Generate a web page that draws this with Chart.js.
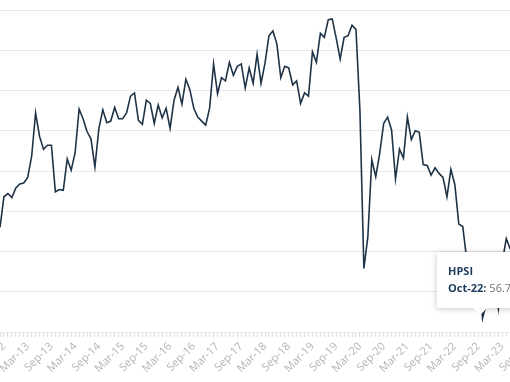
<!DOCTYPE html>
<html>
<head>
<meta charset="utf-8">
<script src="https://cdn.jsdelivr.net/npm/chart.js@4.4.0/dist/chart.umd.min.js"></script>
<style>
  html, body { margin: 0; padding: 0; background: #fff; overflow: hidden; width: 510px; height: 382px; }
  #wrap { position: absolute; left: 0; top: 0; width: 530px; height: 382px; }
  #tip {
    position: absolute; background: #fff; padding: 11px 11px 12px 11px;
    box-shadow: 0 1px 6px rgba(0,0,0,0.22); font-family: 'Open Sans', sans-serif;
    font-size: 11px; white-space: nowrap; border-radius: 1px;
  }
  #tip .t { font-weight: 700; color: #1d3c5c; line-height: 16px; margin-bottom: 1px; }
  #tip .b { line-height: 16px; color: #707070; }
  #tip .b b { color: #1d3c5c; font-weight: 700; }
  #tip .caret {
    position: absolute; left: 50%; bottom: -7px; margin-left: -7px; width: 0; height: 0;
    border-left: 7px solid transparent; border-right: 7px solid transparent; border-top: 7px solid #fff;
  }
</style>
</head>
<body>
<div id="wrap"><canvas id="c" width="530" height="382"></canvas></div>
<div id="tip"><div class="t">HPSI</div><div class="b"><b>Oct-22:</b> 56.7</div><div class="caret"></div></div>
<script>
const seriesName = 'HPSI';
const labels = [
  'Aug-12','Sep-12','Oct-12','Nov-12','Dec-12',
  'Jan-13','Feb-13','Mar-13','Apr-13','May-13','Jun-13','Jul-13','Aug-13','Sep-13','Oct-13','Nov-13','Dec-13',
  'Jan-14','Feb-14','Mar-14','Apr-14','May-14','Jun-14','Jul-14','Aug-14','Sep-14','Oct-14','Nov-14','Dec-14',
  'Jan-15','Feb-15','Mar-15','Apr-15','May-15','Jun-15','Jul-15','Aug-15','Sep-15','Oct-15','Nov-15','Dec-15',
  'Jan-16','Feb-16','Mar-16','Apr-16','May-16','Jun-16','Jul-16','Aug-16','Sep-16','Oct-16','Nov-16','Dec-16',
  'Jan-17','Feb-17','Mar-17','Apr-17','May-17','Jun-17','Jul-17','Aug-17','Sep-17','Oct-17','Nov-17','Dec-17',
  'Jan-18','Feb-18','Mar-18','Apr-18','May-18','Jun-18','Jul-18','Aug-18','Sep-18','Oct-18','Nov-18','Dec-18',
  'Jan-19','Feb-19','Mar-19','Apr-19','May-19','Jun-19','Jul-19','Aug-19','Sep-19','Oct-19','Nov-19','Dec-19',
  'Jan-20','Feb-20','Mar-20','Apr-20','May-20','Jun-20','Jul-20','Aug-20','Sep-20','Oct-20','Nov-20','Dec-20',
  'Jan-21','Feb-21','Mar-21','Apr-21','May-21','Jun-21','Jul-21','Aug-21','Sep-21','Oct-21','Nov-21','Dec-21',
  'Jan-22','Feb-22','Mar-22','Apr-22','May-22','Jun-22','Jul-22','Aug-22','Sep-22','Oct-22','Nov-22','Dec-22',
  'Jan-23','Feb-23','Mar-23','Apr-23','May-23','Jun-23','Jul-23','Aug-23','Sep-23','Oct-23'
];
const hpsi = [
  68.0,71.8,72.2,71.7,72.9,
  73.4,73.5,74.2,76.8,82.2,79.3,77.7,78.2,78.2,72.4,72.7,72.6,
  76.5,75.1,77.3,82.7,81.5,79.9,79.0,75.5,80.3,82.6,81.0,81.2,
  82.9,81.5,81.5,82.2,84.3,84.7,81.3,80.8,83.8,83.4,80.9,83.2,
  81.6,82.8,80.3,83.8,85.4,83.3,86.4,85.1,82.8,81.7,81.2,80.7,
  82.8,88.3,84.6,86.6,86.2,88.5,86.9,88.0,88.3,85.3,87.8,85.9,
  89.5,85.9,88.4,91.8,92.4,90.8,86.6,88.0,87.8,85.7,86.2,83.4,
  84.7,84.3,89.8,88.5,92.1,91.6,93.8,93.9,91.5,88.9,91.6,91.8,
  93.1,92.6,82.5,62.9,66.8,76.4,74.3,77.2,80.9,81.7,80.1,74.0,
  77.7,76.6,81.7,78.9,80.0,79.8,75.8,75.7,74.5,75.4,74.7,74.2,
  71.8,75.2,73.3,68.4,68.1,64.0,62.8,62.0,62.3,56.7,58.6,59.0,
  61.0,57.9,63.7,66.6,65.3
];
const yTicks = [55, 60, 65, 70, 75, 80, 85, 90, 95];
const labelMonths = ['Mar', 'Sep'];
const tipLabel = 'Oct-22';

const chart = new Chart(document.getElementById('c'), {
  type: 'line',
  data: {
    labels: labels,
    datasets: [{
      label: seriesName,
      data: hpsi,
      borderColor: '#1f3347',
      borderWidth: 1.6,
      pointRadius: 0,
      pointHoverRadius: 0,
      tension: 0,
      fill: false
    }]
  },
  options: {
    responsive: false,
    animation: false,
    events: [],
    layout: { padding: { top: 10, left: 0, right: 0, bottom: 0 } },
    plugins: { legend: { display: false }, tooltip: { enabled: false } },
    scales: {
      x: {
        type: 'category',
        offset: false,
        border: { display: false },
        grid: { display: true, drawOnChartArea: false, drawTicks: true, tickLength: 5, color: '#dcdcdc', lineWidth: 1 },
        ticks: {
          autoSkip: false, minRotation: 45, maxRotation: 45, padding: 3,
          color: '#b3b3b3', font: { family: 'Open Sans', size: 11 },
          callback: function (v) {
            const l = this.getLabelForValue(v);
            return labelMonths.includes(l.slice(0, 3)) ? l : '';
          }
        },
        afterFit: function (s) { s.paddingLeft = 0; s.paddingRight = 0; s.height = 50; }
      },
      y: {
        min: yTicks[0], max: yTicks[yTicks.length - 1],
        afterBuildTicks: function (s) { s.ticks = yTicks.map(v => ({ value: v })); },
        border: { display: false },
        grid: { color: '#e9e9e9', lineWidth: 1, drawTicks: false },
        ticks: { display: false }
      }
    }
  }
});

const idx = labels.indexOf(tipLabel);
const px = chart.scales.x.getPixelForValue(idx);
const py = chart.scales.y.getPixelForValue(hpsi[idx]);
const tip = document.getElementById('tip');
const w = tip.offsetWidth, h = tip.offsetHeight;
tip.style.left = (px - w / 2 - 3) + 'px';
tip.style.top = (py - h - 10) + 'px';
</script>
</body>
</html>
